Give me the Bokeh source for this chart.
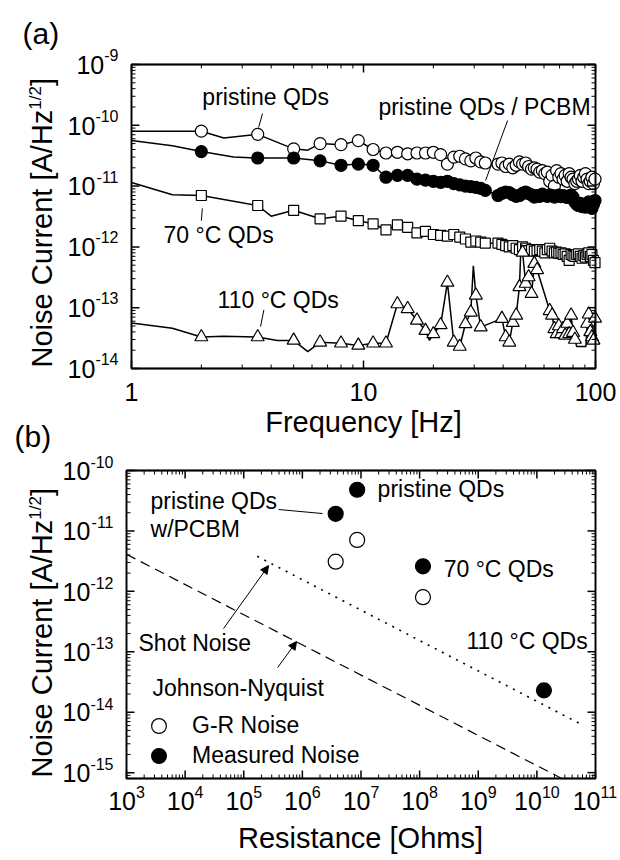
from math import pi, log10
from bokeh.plotting import figure
from bokeh.models import (Range1d, Label, Arrow, NormalHead, Legend, LegendItem, BoxAnnotation)
from bokeh.layouts import column
from bokeh.embed import file_html
from bokeh.resources import INLINE

FONT = "Liberation Sans"

# ---------------- panel (a): noise spectra ----------------
freq = [2, 3.5, 5, 6.5, 8, 9.5, 11, 12.5, 14, 15.5,
        17, 18.5, 20, 21.5, 23, 24.5, 26, 27.5, 29, 30.5,
        32, 33.5,
        38, 39.5, 41, 42.5, 44, 45.5, 47, 48.5, 50, 51.5,
        53, 54.5, 56, 57.5, 59, 60.5, 62, 63.5, 65, 66.5,
        68, 69.5, 71, 72.5, 74, 75.5, 77, 78.5, 80, 81.5,
        83, 84.5, 86, 87.5, 89, 90.5, 92, 93.5, 95, 96.5,
        98, 99.5]

pristine = [8.0e-11, 7.1e-11, 4.1e-11, 5.0e-11, 4.8e-11, 5.6e-11, 4.0e-11, 3.5e-11, 3.6e-11, 3.4e-11,
            3.5e-11, 3.5e-11, 3.6e-11, 3.3e-11, 2.3e-11, 3.0e-11, 3.1e-11, 2.8e-11, 2.6e-11, 2.9e-11,
            2.5e-11, 2.4e-11,
            2.3e-11, 2.4e-11, 2.1e-11, 2.3e-11, 2.0e-11, 2.2e-11, 2.5e-11, 2.3e-11, 2.4e-11, 2.1e-11,
            1.9e-11, 2.0e-11, 1.9e-11, 1.7e-11, 1.8e-11, 1.6e-11, 1.7e-11, 1.2e-11, 1.5e-11, 1.0e-11,
            1.8e-11, 1.4e-11, 1.6e-11, 1.3e-11, 1.5e-11, 1.2e-11, 1.6e-11, 1.4e-11, 1.3e-11, 1.1e-11,
            1.2e-11, 1.3e-11, 1.5e-11, 1.2e-11, 1.4e-11, 1.6e-11, 1.3e-11, 1.1e-11, 1.2e-11, 1.4e-11,
            1.1e-11, 1.3e-11]
pristine_line_f = [1.0, 1.5, 2.5, 5.75]
pristine_line_v = [8.0e-11, 8.0e-11, 6.2e-11, 3.9e-11]

pcbm = [3.7e-11, 2.9e-11, 2.9e-11, 2.6e-11, 2.2e-11, 2.3e-11, 2.2e-11, 1.4e-11, 1.5e-11, 1.5e-11,
        1.3e-11, 1.25e-11, 1.2e-11, 1.15e-11, 1.2e-11, 1.1e-11, 1.05e-11, 1.0e-11, 9.8e-12, 9.5e-12,
        9.2e-12, 8.5e-12,
        7.0e-12, 7.6e-12, 8.0e-12, 7.8e-12, 7.2e-12, 6.8e-12, 7.0e-12, 7.6e-12, 8.0e-12, 7.5e-12,
        7.2e-12, 6.6e-12, 7.0e-12, 6.8e-12, 7.4e-12, 7.0e-12, 6.8e-12, 7.2e-12, 7.0e-12, 6.6e-12,
        6.9e-12, 7.1e-12, 6.7e-12, 7.0e-12, 6.8e-12, 6.5e-12, 6.9e-12, 7.1e-12, 6.6e-12, 5.5e-12,
        5.0e-12, 4.8e-12, 5.2e-12, 4.6e-12, 5.0e-12, 4.5e-12, 4.8e-12, 5.5e-12, 4.7e-12, 4.3e-12,
        5.0e-12, 5.8e-12]
pcbm_line_f = [1.0, 1.5, 2.75]
pcbm_line_v = [5.6e-11, 4.6e-11, 3.0e-11]

qd70 = [7.0e-12, 4.8e-12, 4.0e-12, 2.9e-12, 3.2e-12, 2.7e-12, 2.4e-12, 1.9e-12, 2.3e-12, 2.1e-12,
        1.7e-12, 1.8e-12, 1.6e-12, 1.55e-12, 1.5e-12, 1.6e-12, 1.45e-12, 1.35e-12, 1.2e-12, 1.25e-12,
        1.2e-12, 1.15e-12,
        1.15e-12, 1.1e-12, 1.05e-12, 1.0e-12, 1.05e-12, 9.5e-13, 9.0e-13, 1.0e-12, 9.5e-13, 8.7e-13,
        9.0e-13, 8.5e-13, 8.7e-13, 9.0e-13, 8.5e-13, 8.0e-13, 9.0e-13, 9.5e-13, 8.5e-13, 8.0e-13,
        8.2e-13, 7.8e-13, 8.0e-13, 7.5e-13, 7.7e-13, 7.0e-13, 6.0e-13, 7.5e-13, 7.2e-13, 7.0e-13,
        7.5e-13, 7.7e-13, 7.0e-13, 6.5e-13, 7.2e-13, 6.8e-13, 7.5e-13, 8.0e-13, 7.0e-13, 7.5e-13,
        6.0e-13, 5.5e-13]
qd70_line_f = [1.0, 1.5, 4.0]
qd70_line_v = [1.15e-11, 7.2e-12, 3.2e-12]

qd110 = [3.3e-14, 3.3e-14, 2.9e-14, 2.7e-14, 2.6e-14, 2.4e-14, 2.6e-14, 2.6e-14, 1.15e-13, 9.6e-14,
         6.2e-14, 4.2e-14, 3.7e-14, 5.2e-14, 2.6e-13, 2.7e-14, 2.3e-14, 5.4e-14, 8.4e-14, 1.6e-13,
         4.8e-14, None,
         None, 6.6e-14, 3.3e-14, 2.7e-14, 5.7e-14, 7.5e-14, 2.2e-13, 8.1e-13, 2.5e-13, 3.2e-13,
         1.7e-13, 5.3e-13, 4.2e-13, None, None, None, None, 8.9e-14, 7.5e-14, 4.5e-14,
         3.7e-14, 5.0e-14, 3.7e-14, 4.5e-14, 3.5e-14, 5.5e-14, 3.7e-14, 7.5e-14, 3.9e-14, 3.0e-14,
         None, None, None, None, None, None, 5.5e-14, 7.8e-14, 4.0e-14, 3.3e-14,
         2.9e-14, 6.7e-14]
qd110_line_f = [1.0, 1.5, 2.5, 4.25, 5.75, 19.25, 29.75, 47.75, 83, 91]
qd110_line_v = [5.6e-14, 4.6e-14, 3.4e-14, 2.9e-14, 1.9e-14, 2.9e-14, 4.9e-13, 1.1e-12, 2.3e-14, 2.3e-14]

freq_ticks = [1, 10, 100]
freq_tick_labels = ["1", "10", "100"]
noise_a_exps = [-14, -13, -12, -11, -10, -9]

# ---------------- panel (b): noise vs resistance ----------------
res_gr = [3.7e6, 8.6e6, 1.14e8]
gr_noise = [3.1e-12, 7.1e-12, 8.0e-13]
res_meas = [3.7e6, 8.6e6, 1.14e8, 1.32e10]
meas_noise = [1.92e-11, 4.8e-11, 2.6e-12, 2.3e-14]
shot_res = [1.7e5, 6.3e10]
shot_noise = [3.8e-12, 6.0e-15]
jn_res = [1e3, 2.6e10]
jn_noise = [4.1e-12, 8.1e-16]

res_exps = [3, 4, 5, 6, 7, 8, 9, 10, 11]
noise_b_exps = [-15, -14, -13, -12, -11, -10]

# ---------------- page geometry (pixels, from page top-left) ----------------
W = 620
A_H = 455                      # height of canvas (a); canvas (b) sits below it
B_H = 860 - A_H
A_L, A_R, A_T, A_B = 131, 595, 64, 368
B_L, B_R, B_T, B_B = 126, 595, 470, 778

A_XLO, A_XHI = 0.0, 2.0
A_YLO, A_YHI = -14.0, -9.0
B_XLO, B_XHI = 3.0, 11.0
B_YLO, B_YHI = log10(8e-16), -10.0

ax_px = (A_R - A_L) / (A_XHI - A_XLO)
ay_px = (A_B - A_T) / (A_YHI - A_YLO)
bx_px = (B_R - B_L) / (B_XHI - B_XLO)
by_px = (B_B - B_T) / (B_YHI - B_YLO)


def conv_a(x, y):
    return 10 ** (A_XLO + (x - A_L) / ax_px), 10 ** (A_YHI - (y - A_T) / ay_px)


def conv_b(x, y):
    return 10 ** (B_XLO + (x - B_L) / bx_px), 10 ** (B_YHI - (y - B_T) / by_px)


def inv_a(fx, fy):
    return A_L + (log10(fx) - A_XLO) * ax_px, A_T + (A_YHI - log10(fy)) * ay_px


def inv_b(fx, fy):
    return B_L + (log10(fx) - B_XLO) * bx_px, B_T + (B_YHI - log10(fy)) * by_px


CW = {'N': .722, 'o': .556, 'i': .222, 's': .5, 'e': .556, ' ': .278, 'C': .722, 'u': .556,
      'r': .333, 'n': .556, 't': .278, '[': .278, 'A': .667, '/': .278, 'H': .722, 'z': .5,
      ']': .278, '-': .333}


def tw(s, size):
    return sum(CW.get(c, 0.556) for c in s) * size


BASE = 25
EXPS = 16
ANN = 23
MID = 0.35                      # baseline -> middle of the em box, in em


def merge(fs, vs, ef, ev):
    pts = [(f, v) for f, v in zip(fs, vs) if v is not None] + list(zip(ef, ev))
    pts.sort()
    return [a for a, b in pts], [b for a, b in pts]


def markers(fs, vs):
    ok = [(f, v) for f, v in zip(fs, vs) if v is not None]
    return [a for a, b in ok], [b for a, b in ok]


def plab(p, conv, x, y, text, size, align="left", angle=0.0):
    """Text whose baseline passes through page pixel (x, y)."""
    if angle == 0.0:
        dx, dy = conv(x, y - MID * size)
    else:
        dx, dy = conv(x - MID * size, y)
    p.add_layout(Label(x=dx, y=dy, text=text, text_font=FONT, text_font_size=f"{size}px",
                       text_align=align, text_baseline="middle", angle=angle,
                       text_color="black"))


def dlab(p, conv, inv, fx, fy, text, size=ANN, align="left"):
    x, y = inv(fx, fy)
    plab(p, conv, x, y, text, size, align)


def ytick_labels(p, conv, exps, top_exp, top_px, px_per_dec, frame_left, exp_rise):
    for e in exps:
        ty = top_px + (top_exp - e) * px_per_dec
        es = str(e)
        ew = tw(es, EXPS)
        plab(p, conv, frame_left - 13, ty - exp_rise, es, EXPS, "right")
        plab(p, conv, frame_left - 13 - ew, ty + 9, "10", BASE, "right")


def ytitle(p, conv, y_start):
    main = "Noise Current [A/Hz"
    wm = tw(main, 29)
    ws = tw("1/2", 17)
    plab(p, conv, 52, y_start, main, 29, "left", pi / 2)
    plab(p, conv, 41, y_start - wm, "1/2", 17, "left", pi / 2)
    plab(p, conv, 52, y_start - wm - ws, "]", 29, "left", pi / 2)


def seg(p, x0, y0, x1, y1, width=1.0, head=False):
    p.add_layout(Arrow(x_start=x0, y_start=y0, x_end=x1, y_end=y1, line_width=width,
                       line_color="black",
                       end=NormalHead(size=8, fill_color="black", line_color="black") if head else None))


def make_fig(height, conv, y_page0):
    x0, y1 = conv(0, y_page0)
    x1, y0 = conv(W, y_page0 + height)
    p = figure(width=W, height=height, x_axis_type="log", y_axis_type="log",
               x_range=Range1d(x0, x1), y_range=Range1d(y0, y1),
               output_backend="svg", toolbar_location=None,
               min_border_left=0, min_border_right=0, min_border_top=0, min_border_bottom=0,
               background_fill_color="white", border_fill_color="white")
    p.xaxis.visible = False
    p.yaxis.visible = False
    p.xgrid.visible = False
    p.ygrid.visible = False
    p.outline_line_color = None
    return p


def box_and_ticks(p, conv, inv, xlim, ylim, L, R, T, B, xmaj, xmin, ymaj, ymin):
    """Panel frame with inward ticks on all four sides, placed through the log scales."""
    p.quad(left=[xlim[0]], right=[xlim[1]], bottom=[ylim[0]], top=[ylim[1]],
           fill_alpha=0, line_color="black", line_width=1.8)
    p.add_layout(BoxAnnotation(left=xlim[0], right=xlim[1], bottom=ylim[0], top=ylim[1],
                               fill_alpha=0, line_color="black", line_width=1.8))
    for vals, length, width in ((xmaj, 8, 1.5), (xmin, 4, 1.0)):
        xs, ys = [], []
        for v in vals:
            x = inv(v, 1e-12)[0]
            for yc in (B - length / 2.0, T + length / 2.0):
                xs.append(v)
                ys.append(conv(x, yc)[1])
        p.scatter(xs, ys, marker="dash", size=length, angle=pi / 2,
                  line_color="black", line_width=width)
    for vals, length, width in ((ymaj, 8, 1.5), (ymin, 4, 1.0)):
        xs, ys = [], []
        for v in vals:
            y = inv(1e5, v)[1]
            for xc in (L + length / 2.0, R - length / 2.0):
                xs.append(conv(xc, y)[0])
                ys.append(v)
        p.scatter(xs, ys, marker="dash", size=length, angle=0.0,
                  line_color="black", line_width=width)


# ---------------- figure (a) ----------------
p1 = make_fig(A_H, conv_a, 0)

series = [
    (pristine, pristine_line_f, pristine_line_v, "circle", "white", 12),
    (pcbm, pcbm_line_f, pcbm_line_v, "circle", "black", 12),
    (qd70, qd70_line_f, qd70_line_v, "square", "white", 10),
    (qd110, qd110_line_f, qd110_line_v, "triangle", "white", 13),
]
for vals, ef, ev, mk, fill, sz in series:
    lf, lv = merge(freq, vals, ef, ev)
    p1.line(lf, lv, line_color="black", line_width=1.5)
    mf, mv = markers(freq, vals)
    p1.scatter(mf, mv, marker=mk, size=sz, fill_color=fill, line_color="black", line_width=1.2)

box_and_ticks(p1, conv_a, inv_a, (1, 100), (1e-14, 1e-9), A_L, A_R, A_T, A_B,
              freq_ticks, [m * 10.0 ** e for e in (0, 1) for m in range(2, 10)],
              [10.0 ** e for e in noise_a_exps],
              [m * 10.0 ** e for e in range(-14, -9) for m in range(2, 10)])

for t, s in zip(freq_ticks, freq_tick_labels):
    plab(p1, conv_a, inv_a(t, 1e-12)[0], A_B + 32, s, BASE, "center")
ytick_labels(p1, conv_a, noise_a_exps, -9, A_T, ay_px, A_L, 4)
ytitle(p1, conv_a, A_B - 1)
plab(p1, conv_a, (A_L + A_R) / 2, A_B + 64, "Frequency [Hz]", 29, "center")
plab(p1, conv_a, 22, 43, "(a)", 30)
plab(p1, conv_a, 14, 446, "(b)", 30)

dlab(p1, conv_a, inv_a, 2.02, 2.12e-10, "pristine QDs")
seg(p1, 3.67, 1.56e-10, 3.53, 9.2e-11)
dlab(p1, conv_a, inv_a, 95.2, 1.45e-10, "pristine QDs / PCBM", align="right")
seg(p1, 41.8, 1.2e-10, 33.6, 1.24e-11)
dlab(p1, conv_a, inv_a, 1.374, 1.15e-12, "70 °C QDs")
seg(p1, 2.02, 4.3e-12, 2.0, 2.7e-12)
dlab(p1, conv_a, inv_a, 2.35, 9.7e-14, "110 °C QDs")
seg(p1, 3.72, 9.2e-14, 3.6, 4.9e-14)

# ---------------- figure (b) ----------------
p2 = make_fig(B_H, conv_b, A_H)

p2.line(jn_res, jn_noise, line_color="black", line_width=1.2, line_dash="10 6")
p2.line(shot_res, shot_noise, line_color="black", line_width=1.6, line_dash="2 6")
r_gr = p2.scatter(res_gr, gr_noise, marker="circle", size=15, fill_color="white",
                  line_color="black", line_width=1.2)
r_meas = p2.scatter(res_meas, meas_noise, marker="circle", size=15, fill_color="black",
                    line_color="black", line_width=1.2)

box_and_ticks(p2, conv_b, inv_b, (1e3, 1e11), (8e-16, 1e-10), B_L, B_R, B_T, B_B,
              [10.0 ** e for e in res_exps],
              [m * 10.0 ** e for e in range(3, 11) for m in range(2, 10)],
              [10.0 ** e for e in noise_b_exps],
              [m * 10.0 ** e for e in range(-16, -10) for m in range(2, 10)
               if m * 10.0 ** e >= 8e-16])

for e in res_exps:
    es = str(e)
    wb = tw("10", BASE)
    wt = wb + tw(es, EXPS)
    tx = B_L + (e - B_XLO) * bx_px
    plab(p2, conv_b, tx - wt / 2, B_B + 31, "10", BASE)
    plab(p2, conv_b, tx - wt / 2 + wb, B_B + 19, es, EXPS)
ytick_labels(p2, conv_b, noise_b_exps, -10, B_T, by_px, B_L, 3)
ytitle(p2, conv_b, B_B - 1)
plab(p2, conv_b, 360, 848, "Resistance [Ohms]", 29, "center")

dlab(p2, conv_b, inv_b, 1.92e7, 3.61e-11, "pristine QDs")
dlab(p2, conv_b, inv_b, 2570, 2.32e-11, "pristine QDs")
dlab(p2, conv_b, inv_b, 2570, 7.87e-12, "w/PCBM")
seg(p2, 3.93e5, 2.26e-11, 2.21e6, 1.94e-11)
dlab(p2, conv_b, inv_b, 2.57e8, 1.71e-12, "70 °C QDs")
dlab(p2, conv_b, inv_b, 7.36e10, 1.13e-13, "110 °C QDs", align="right")
dlab(p2, conv_b, inv_b, 1603, 1.02e-13, "Shot Noise")
seg(p2, 4.52e4, 2.42e-13, 2.65e5, 2.67e-12, head=True)
dlab(p2, conv_b, inv_b, 2780, 1.88e-14, "Johnson-Nyquist")
seg(p2, 3.78e5, 5.47e-14, 7.96e5, 1.48e-13, head=True)

for item_label, rend, ypos in (("G-R Noise", r_gr, 116), ("Measured Noise", r_meas, 86)):
    leg = Legend(items=[LegendItem(label=item_label, renderers=[rend])],
                 location=(140, ypos), glyph_width=37, glyph_height=37, padding=0,
                 margin=0, label_standoff=15, label_text_font=FONT,
                 label_text_font_size=f"{ANN}px",
                 label_text_color="black", border_line_alpha=0, background_fill_alpha=0)
    p2.add_layout(leg)

layout = column(p1, p2)
open("out.html", "w").write(file_html(layout, INLINE))
